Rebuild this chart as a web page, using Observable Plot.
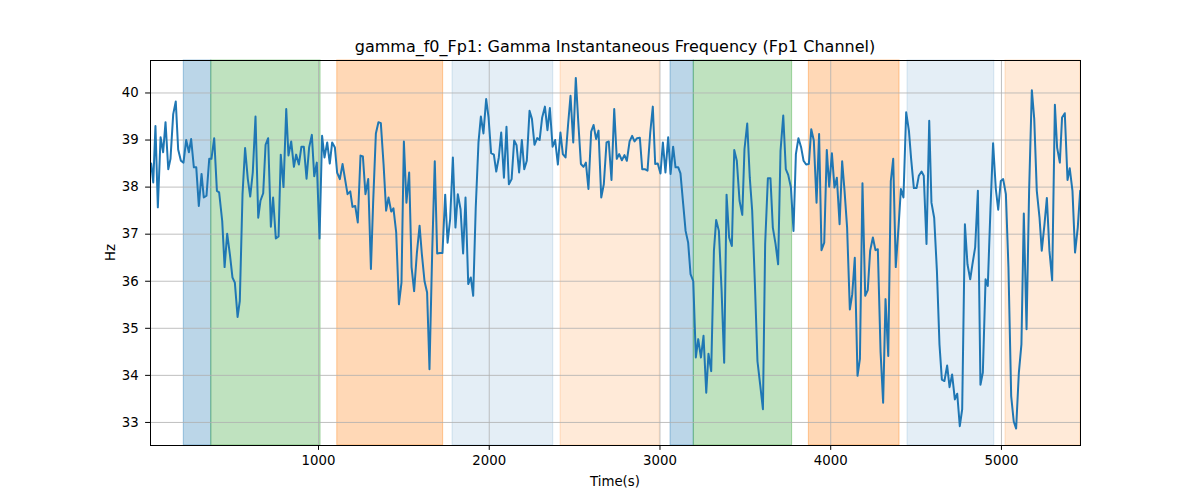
<!DOCTYPE html>
<html>
<head>
<meta charset="utf-8">
<script src="https://cdn.jsdelivr.net/npm/d3@7"></script>
<script src="https://cdn.jsdelivr.net/npm/@observablehq/plot@0.6"></script>
<style>
  body { margin: 0; background: #fff; }
  #chart svg { font-family: "DejaVu Sans", sans-serif; }
</style>
</head>
<body>
<div id="chart"></div>
<script>
const times = [
  20,32,45,59,75,90,104,120,133,149,164,178,194,209,225,241,254,270,284,299,
  315,328,344,360,373,389,405,418,436,450,465,481,496,510,526,539,555,570,586,600,
  615,631,647,660,676,690,705,721,734,750,766,779,795,811,824,840,856,869,885,900,
  914,930,945,961,975,990,1006,1021,1035,1051,1066,1080,1096,
  1109,1125,1141,1154,1170,1186,1199,1215,1230,1246,1260,1275,1291,1307,1320,1336,1351,1365,1381,1396,
  1410,1426,1439,1455,1471,1486,1500,1515,1531,1545,1560,1576,1592,1605,1621,1636,1650,1666,1681,1695,
  1711,1726,1742,1756,1771,1787,1802,1816,1832,1847,1861,1877,1892,1906,1921,1937,1951,1966,1982,1996,
  2011,2027,2041,2056,2070,
  2086,2101,2115,2131,2146,2160,2175,2191,2205,2220,2236,2250,2265,2281,2295,2310,2326,2341,2355,2371,
  2386,2402,2417,2431,2447,2462,2476,2492,2507,2521,2537,2552,2566,2581,2597,2611,2626,2640,2656,2671,
  2687,2700,2716,2732,2747,2761,2777,2792,2806,2822,2837,2851,2866,2882,2896,2911,2927,2943,2958,2972,
  2987,3003,3017,3032,3048,3062,3077,3091,3107,
  3120,3136,3150,3165,3179,3195,3210,3224,3240,3255,3271,3284,3300,3316,3329,3345,3361,3376,3390,3405,
  3421,3435,3450,3466,3482,3495,3511,3526,3540,3556,3571,3587,3603,3616,3632,3647,3661,3677,3692,3706,
  3722,3737,3751,3767,3782,3796,3811,3827,3841,3856,3872,3886,3901,3917,3932,3946,3962,3977,3991,4007,
  4022,4036,4052,4067,4081,4096,4112,4126,4141,4157,4171,4186,4202,4217,4231,4247,4262,4276,
  4292,4307,4321,4337,4352,4366,4381,4397,4411,4426,4442,4458,4471,4487,4503,4516,4532,4545,4561,4577,
  4590,4606,4622,4637,4651,4666,4682,4696,4711,4727,4741,4756,4770,4786,4801,4817,4830,4846,4862,4877,
  4891,4907,4920,4936,4951,4967,4981,4996,5010,5026,5041,5057,5072,5086,5102,5117,5131,5147,5162,5178,
  5192,5207,5223,5236,5252,5266,5281,5297,5313,5326,5342,5355,5371,5387,5400,5416,5431,5447,5461
];
const freqs = [
  38.5,38.1,39.3,37.57,39.06,38.74,39.38,38.38,38.6,39.55,39.82,38.8,38.56,38.52,39.0,38.74,39.02,38.42,38.42,37.6,
  38.28,37.78,37.82,38.6,38.6,39.04,37.92,37.89,37.28,36.3,37.01,36.57,36.08,35.97,35.24,35.58,37.85,38.83,38.17,37.8,
  38.31,39.5,37.35,37.71,37.87,38.9,39.04,37.16,37.78,36.91,36.95,38.69,38.0,39.66,38.67,38.97,38.43,38.69,38.48,38.86,
  38.86,38.18,38.84,39.11,38.23,38.52,36.91,39.09,38.63,38.95,38.5,38.95,38.84,
  38.31,38.17,38.49,38.2,37.85,37.91,37.58,37.6,37.25,38.67,38.65,37.85,38.17,36.26,37.67,39.14,39.38,39.36,38.49,37.5,
  37.78,37.48,37.55,37.04,35.51,35.97,38.97,37.67,38.31,36.3,35.79,36.59,37.18,36.59,36.0,35.76,34.13,36.64,38.55,36.59,
  36.6,36.6,37.84,36.82,37.32,38.63,37.14,37.85,37.53,36.59,37.78,35.94,36.08,35.69,37.57,38.95,39.5,39.14,39.87,39.48,
  38.72,38.69,38.33,38.63,39.16,
  38.2,39.28,38.06,38.17,38.99,38.89,38.31,39.0,38.38,38.56,39.62,39.45,38.9,39.04,39.0,39.48,39.71,39.21,39.68,38.86,
  39.0,38.48,39.16,38.7,38.63,39.34,39.94,38.95,40.32,39.41,38.49,38.43,38.52,37.96,39.18,39.32,39.02,39.2,37.78,38.06,
  38.95,38.97,38.15,39.66,38.6,38.7,38.57,38.68,38.56,38.97,39.09,38.97,39.04,39.05,38.38,38.38,38.35,39.16,39.71,38.49,
  38.5,38.29,38.95,38.31,39.06,38.28,38.86,38.42,38.42,
  38.29,37.64,37.07,36.82,36.15,36.0,34.38,34.77,34.38,34.84,33.63,34.46,34.09,36.65,37.3,37.07,35.79,34.27,37.84,36.93,
  36.75,38.79,38.56,37.71,37.41,38.81,39.35,38.2,37.5,35.94,34.3,33.8,33.28,36.79,38.19,38.19,37.14,36.79,36.36,38.77,
  39.52,38.38,38.26,37.99,37.07,38.7,39.04,38.84,38.56,38.48,38.49,39.23,38.99,37.67,39.13,36.66,36.82,38.79,38.01,38.72,
  37.99,38.2,37.21,38.55,37.92,37.14,35.4,35.72,36.5,33.99,34.35,38.08,35.69,35.81,36.65,36.93,36.66,36.68,
  34.5,33.42,35.62,34.41,38.13,38.6,36.3,37.14,37.96,37.78,39.59,39.2,38.6,37.98,37.98,38.24,38.33,38.24,36.79,39.41,
  37.67,37.35,36.22,34.66,33.91,33.88,34.21,33.75,34.02,33.49,33.61,32.92,33.28,37.21,36.36,36.04,36.36,36.72,37.92,33.8,
  34.06,36.04,35.9,37.57,38.93,37.96,37.52,38.13,38.17,37.85,36.29,33.56,33.02,32.87,34.06,34.66,37.44,34.98,37.92,40.06,
  39.45,37.92,37.35,36.65,37.21,37.77,36.65,36.02,39.75,38.84,38.52,39.48,39.57,38.15,38.4,37.92,36.61,37.14,37.92
];

const spanStarts = [211, 372, 1110, 1785, 2418, 3062, 3198, 3872, 4450, 5024];
const spanEnds   = [372, 1012, 1730, 2375, 2999, 3198, 3774, 4403, 4958, 5463];
const spanKinds  = ["blue","green","orange","lightblue","lightorange","blue","green","orange","lightblue","lightorange"];

const xTicks = [1000, 2000, 3000, 4000, 5000];
const yTicks = [33, 34, 35, 36, 37, 38, 39, 40];

const titleText = "gamma_f0_Fp1: Gamma Instantaneous Frequency (Fp1 Channel)";
const xLabel = "Time(s)";
const yLabel = "Hz";

const kindStyle = {
  blue:        {color: "#1f77b4", opacity: 0.3},
  green:       {color: "#2ca02c", opacity: 0.3},
  orange:      {color: "#ff7f0e", opacity: 0.3},
  lightblue:   {color: "#1f77b4", opacity: 0.12},
  lightorange: {color: "#ff7f0e", opacity: 0.16}
};

const series = times.map((t, i) => ({t, f: freqs[i]}));
const spans = spanStarts.map((s, i) => ({x1: s, x2: spanEnds[i], kind: spanKinds[i]}));

const W = 1200, H = 500, mL = 150, mR = 120, mT = 60, mB = 55;

const plot = Plot.plot({
  width: W, height: H,
  marginLeft: mL, marginRight: mR, marginTop: mT, marginBottom: mB,
  style: {fontFamily: "DejaVu Sans, sans-serif", fontSize: "13.3px", color: "black", background: "white"},
  x: {domain: [16, 5463]},
  y: {domain: [32.51, 40.69]},
  marks: [
    Plot.rect(spans, {
      x1: "x1", x2: "x2",
      fill: d => kindStyle[d.kind].color,
      fillOpacity: d => kindStyle[d.kind].opacity,
      stroke: d => kindStyle[d.kind].color,
      strokeOpacity: d => Math.min(1, kindStyle[d.kind].opacity * 1.3),
      strokeWidth: 1
    }),
    Plot.gridX(xTicks, {stroke: "#b0b0b0", strokeOpacity: 1, strokeWidth: 0.8}),
    Plot.gridY(yTicks, {stroke: "#b0b0b0", strokeOpacity: 1, strokeWidth: 0.8}),
    Plot.line(series, {x: "t", y: "f", stroke: "#1f77b4", strokeWidth: 2, clip: true}),
    Plot.frame({stroke: "black", strokeWidth: 1}),
    Plot.axisX(xTicks, {tickSize: 4.9, tickPadding: 5, tickFormat: d3.format("d"), label: null, fontSize: 13.3, stroke: "black"}),
    Plot.axisY(yTicks, {tickSize: 4.9, tickPadding: 7, tickFormat: d3.format("d"), label: null, fontSize: 13.3, stroke: "black"})
  ]
});

document.getElementById("chart").appendChild(plot);

const svg = d3.select(plot);
const cx = mL + (W - mL - mR) / 2;
svg.append("text")
  .attr("x", cx).attr("y", 52)
  .attr("text-anchor", "middle")
  .attr("font-size", "16px")
  .attr("fill", "black")
  .text(titleText);
svg.append("text")
  .attr("x", cx).attr("y", 486)
  .attr("text-anchor", "middle")
  .attr("font-size", "13.3px")
  .attr("fill", "black")
  .text(xLabel);
svg.append("text")
  .attr("transform", `translate(115, ${mT + (H - mT - mB) / 2}) rotate(-90)`)
  .attr("text-anchor", "middle")
  .attr("font-size", "13.3px")
  .attr("fill", "black")
  .text(yLabel);
</script>
</body>
</html>
